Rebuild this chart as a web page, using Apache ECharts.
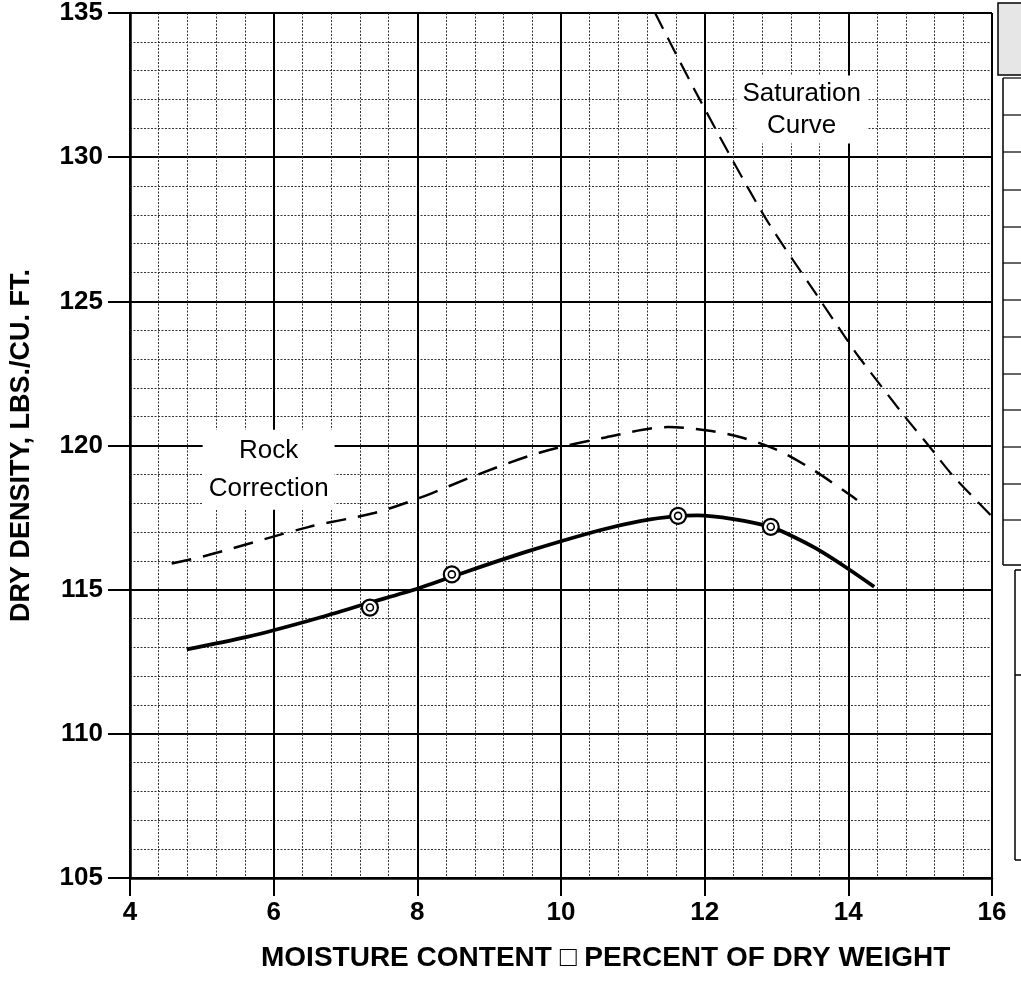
<!DOCTYPE html>
<html>
<head>
<meta charset="utf-8">
<script src="https://cdn.jsdelivr.net/npm/echarts@6/dist/echarts.min.js"></script>
<style>
    html, body { margin: 0; padding: 0; background: #fff; }
    #chart { width: 1021px; height: 982px; }
</style>
</head>
<body>
<div id="chart"></div>
<script>
// moisture (%) vs dry density (lbs/cu ft)
var compactionCurve = [
    [4.79, 112.93], [5.63, 113.36], [6.5, 113.93], [7.3, 114.52], [8.03, 115.06],
    [8.48, 115.45], [9.5, 116.3], [10.54, 117.06], [11.1, 117.38], [11.63, 117.56],
    [11.9, 117.58], [12.4, 117.45], [12.92, 117.18], [13.2, 116.88], [13.55, 116.43],
    [13.97, 115.77], [14.36, 115.1]
];
var testPoints = [[7.34, 114.38], [8.48, 115.53], [11.63, 117.56], [12.92, 117.18]];
var rockCurve = [
    [4.58, 115.91], [5.09, 116.2], [6.48, 117.17], [7.4, 117.66], [8.05, 118.2],
    [8.86, 119.01], [9.7, 119.75], [10.62, 120.28], [11.49, 120.64], [12.04, 120.52],
    [12.54, 120.26], [13.05, 119.8], [13.5, 119.17], [13.98, 118.36], [14.12, 118.11]
];
var saturationCurve = [
    [11.31, 135], [11.91, 132.1], [12.82, 128.0], [13.56, 125.22], [13.97, 123.71],
    [14.15, 123.06], [14.81, 120.93], [15.12, 119.99], [15.46, 118.94], [16.0, 117.54]
];
var curveLabels = [
    {value: [5.93, 119.16], text: 'Rock\nCorrection', lh: 38},
    {value: [13.35, 131.65], text: 'Saturation\nCurve', lh: 32}
];

var font = 'Arial, "Liberation Sans", sans-serif';
var myChart = echarts.init(document.getElementById('chart'));

// stub of the table cut off at the right edge of the scan
var tableRows = [78, 115, 152, 190, 227, 263, 300, 337, 374, 410, 447, 484, 520];
var deco = [
    {type: 'rect', shape: {x: 998, y: 3, width: 30, height: 72}, style: {fill: '#e6e6e6', stroke: '#000', lineWidth: 1.5}},
    {type: 'line', shape: {x1: 1003, y1: 78, x2: 1003, y2: 565}, style: {stroke: '#000', lineWidth: 1.5}},
    {type: 'line', shape: {x1: 1003, y1: 565, x2: 1021, y2: 565}, style: {stroke: '#000', lineWidth: 1.5}},
    {type: 'line', shape: {x1: 1015, y1: 570, x2: 1015, y2: 860}, style: {stroke: '#000', lineWidth: 1.5}},
    {type: 'line', shape: {x1: 1015, y1: 570, x2: 1021, y2: 570}, style: {stroke: '#000', lineWidth: 1.5}},
    {type: 'line', shape: {x1: 1015, y1: 675, x2: 1021, y2: 675}, style: {stroke: '#000', lineWidth: 1.5}},
    {type: 'line', shape: {x1: 1015, y1: 860, x2: 1021, y2: 860}, style: {stroke: '#000', lineWidth: 1.5}}
];
tableRows.forEach(function (y) {
    deco.push({type: 'line', shape: {x1: 1003, y1: y, x2: 1021, y2: y}, style: {stroke: '#000', lineWidth: 1.2}});
});

var option = {
    backgroundColor: '#fff',
    animation: false,
    title: {
        text: 'MOISTURE CONTENT \u25A1 PERCENT OF DRY WEIGHT',
        left: 256,
        top: 939,
        textStyle: {fontFamily: font, fontSize: 28, fontWeight: 'bold', color: '#000'}
    },
    graphic: deco,
    grid: {left: 127, top: 10, width: 865, height: 868},
    xAxis: {
        type: 'value',
        min: 4,
        max: 16,
        interval: 2,
        axisLine: {show: true, onZero: false, lineStyle: {color: '#000', width: 2.5}},
        axisTick: {show: true, length: 18, lineStyle: {color: '#000', width: 2}},
        axisLabel: {margin: 22, fontFamily: font, fontSize: 26, fontWeight: 'bold', color: '#000'},
        splitLine: {show: true, lineStyle: {color: '#000', width: 2}},
        minorTick: {show: true, splitNumber: 5, length: 0},
        minorSplitLine: {show: true, lineStyle: {color: '#333', width: 1, type: [2, 1.5]}}
    },
    yAxis: {
        type: 'value',
        min: 105,
        max: 135,
        interval: 5,
        name: 'DRY DENSITY, LBS./CU. FT.',
        nameLocation: 'middle',
        nameGap: 95,
        nameTextStyle: {fontFamily: font, fontSize: 27, fontWeight: 'bold', color: '#000'},
        axisLine: {show: true, onZero: false, lineStyle: {color: '#000', width: 2.5}},
        axisTick: {show: true, length: 22, lineStyle: {color: '#000', width: 2}},
        axisLabel: {margin: 27, fontFamily: font, fontSize: 26, fontWeight: 'bold', color: '#000'},
        splitLine: {show: true, lineStyle: {color: '#000', width: 2}},
        minorTick: {show: true, splitNumber: 5, length: 0},
        minorSplitLine: {show: true, lineStyle: {color: '#333', width: 1, type: [2, 1.5]}}
    },
    series: [{
        name: 'Compaction',
        type: 'line',
        data: compactionCurve,
        smooth: 0.3,
        showSymbol: false,
        lineStyle: {color: '#000', width: 3.8},
        z: 3
    }, {
        name: 'Rock Correction',
        type: 'line',
        data: rockCurve,
        smooth: 0.3,
        showSymbol: false,
        lineStyle: {color: '#000', width: 2.5, type: [20, 12]},
        z: 3
    }, {
        name: 'Saturation Curve',
        type: 'line',
        data: saturationCurve,
        smooth: 0.3,
        showSymbol: false,
        lineStyle: {color: '#000', width: 2.2, type: [18, 10]},
        z: 3
    }, {
        name: 'Tests',
        type: 'scatter',
        data: testPoints,
        symbol: 'circle',
        symbolSize: 16,
        itemStyle: {color: '#fff', borderColor: '#000', borderWidth: 2.2, opacity: 1},
        z: 4
    }, {
        name: 'Tests inner',
        type: 'scatter',
        data: testPoints,
        symbol: 'circle',
        symbolSize: 7,
        itemStyle: {color: '#fff', borderColor: '#000', borderWidth: 1.6, opacity: 1},
        z: 5
    }, {
        name: 'Labels',
        type: 'scatter',
        symbolSize: 0,
        itemStyle: {opacity: 1},
        data: curveLabels.map(function (d) {
            return {
                value: d.value,
                label: {
                    show: true,
                    position: 'inside',
                    formatter: d.text,
                    lineHeight: d.lh,
                    fontFamily: font,
                    fontSize: 26,
                    color: '#000',
                    backgroundColor: '#fff',
                    padding: [2, 6]
                }
            };
        }),
        z: 6
    }]
};

myChart.setOption(option);
</script>
</body>
</html>
